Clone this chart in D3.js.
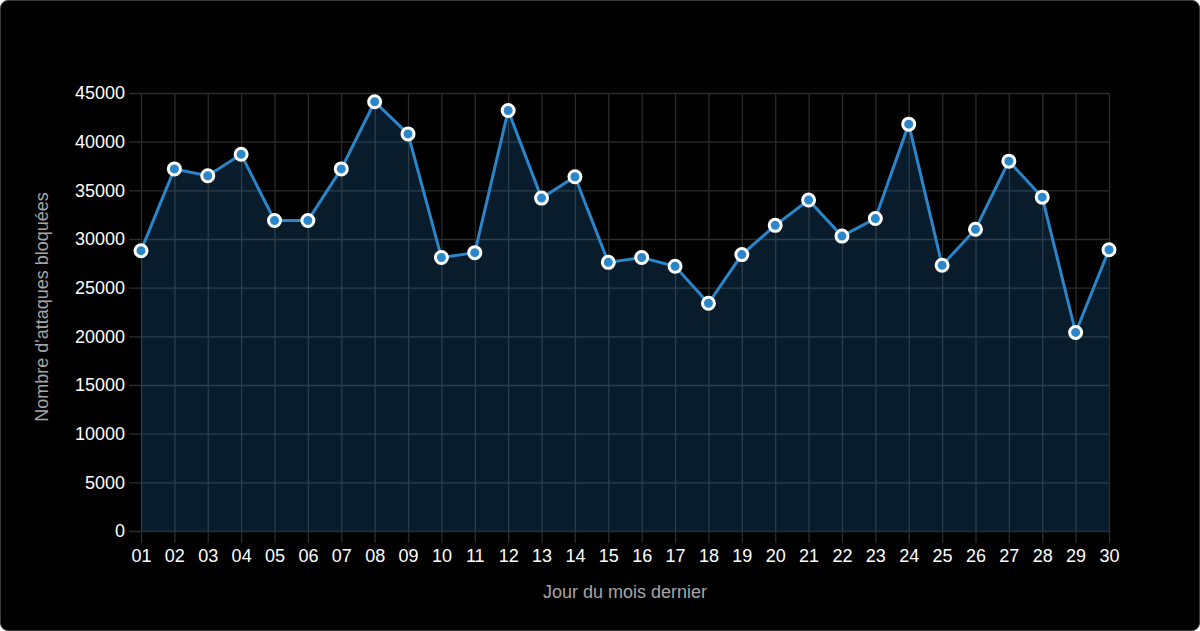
<!DOCTYPE html>
<html>
<head>
<meta charset="utf-8">
<script src="https://cdn.jsdelivr.net/npm/d3@7"></script>
<style>
  html, body { margin: 0; padding: 0; background: #fff; }
  #card {
    width: 1200px; height: 631px; box-sizing: border-box;
    background: #000; border: 1px solid #3a3a3a; border-radius: 8px;
    overflow: hidden;
  }
  svg { display: block; font-family: "Liberation Sans", Helvetica, Arial, sans-serif; }
</style>
</head>
<body>
<div id="card"></div>
<script>
// jours et valeurs
var jours = ['01','02','03','04','05','06','07','08','09','10','11','12','13','14','15',
             '16','17','18','19','20','21','22','23','24','25','26','27','28','29','30'];
var attaques = [28800, 37200, 36500, 38700, 31900, 31900, 37200, 44100, 40800, 28100,
                28600, 43200, 34200, 36400, 27600, 28100, 27200, 23400, 28400, 31400,
                34000, 30300, 32100, 41800, 27300, 31000, 38000, 34300, 20400, 28900];
var yTicks = [0, 5000, 10000, 15000, 20000, 25000, 30000, 35000, 40000, 45000];

var width = 1198, height = 629;
var margin = {top: 92, right: 90, bottom: 99, left: 140};

var svg = d3.select('#card').append('svg')
  .attr('width', width).attr('height', height);

var x = d3.scalePoint().domain(jours).range([margin.left, width - margin.right]);
var y = d3.scaleLinear().domain([0, 45000]).range([height - margin.bottom, margin.top]);

var blue = '#2a85c9';

// grille
var grid = svg.append('g').attr('stroke', '#2c2c2c').attr('stroke-width', 1.3);
grid.selectAll('.h').data(yTicks).enter().append('line')
  .attr('x1', margin.left - 12).attr('x2', width - margin.right)
  .attr('y1', d => y(d) + 0.5).attr('y2', d => y(d) + 0.5);
grid.selectAll('.v').data(jours).enter().append('line')
  .attr('x1', d => x(d) + 0.5).attr('x2', d => x(d) + 0.5)
  .attr('y1', margin.top).attr('y2', height - margin.bottom + 12);

// surface
var area = d3.area()
  .x((d, i) => x(jours[i]))
  .y0(y(0))
  .y1(d => y(d));
svg.append('path').datum(attaques)
  .attr('d', area)
  .attr('fill', blue).attr('fill-opacity', 0.21);

// ligne
var line = d3.line().x((d, i) => x(jours[i])).y(d => y(d));
svg.append('path').datum(attaques)
  .attr('d', line)
  .attr('fill', 'none').attr('stroke', blue).attr('stroke-width', 3);

// points
svg.selectAll('.pt').data(attaques).enter().append('circle')
  .attr('cx', (d, i) => x(jours[i]))
  .attr('cy', d => y(d))
  .attr('r', 6)
  .attr('fill', blue).attr('stroke', '#fff').attr('stroke-width', 3);

// axes
var yAxis = svg.append('g')
  .attr('transform', 'translate(' + margin.left + ',0)')
  .call(d3.axisLeft(y).tickValues(yTicks).tickSize(0).tickPadding(16).tickFormat(d3.format('d')));
var xAxis = svg.append('g')
  .attr('transform', 'translate(0,' + (height - margin.bottom) + ')')
  .call(d3.axisBottom(x).tickSize(0).tickPadding(18));
[yAxis, xAxis].forEach(function(a) {
  a.select('.domain').remove();
  a.selectAll('text').attr('fill', '#fff').style('font-size', '18px');
});

// titres
svg.append('text')
  .attr('transform', 'translate(47,' + ((margin.top + height - margin.bottom) / 2 - 5) + ') rotate(-90)')
  .attr('text-anchor', 'middle')
  .attr('fill', '#a6a6a6').style('font-size', '18px')
  .text("Nombre d'attaques bloquées");
svg.append('text')
  .attr('x', (margin.left + width - margin.right) / 2)
  .attr('y', 597)
  .attr('text-anchor', 'middle')
  .attr('fill', '#a6a6a6').style('font-size', '18px')
  .text('Jour du mois dernier');
</script>
</body>
</html>
